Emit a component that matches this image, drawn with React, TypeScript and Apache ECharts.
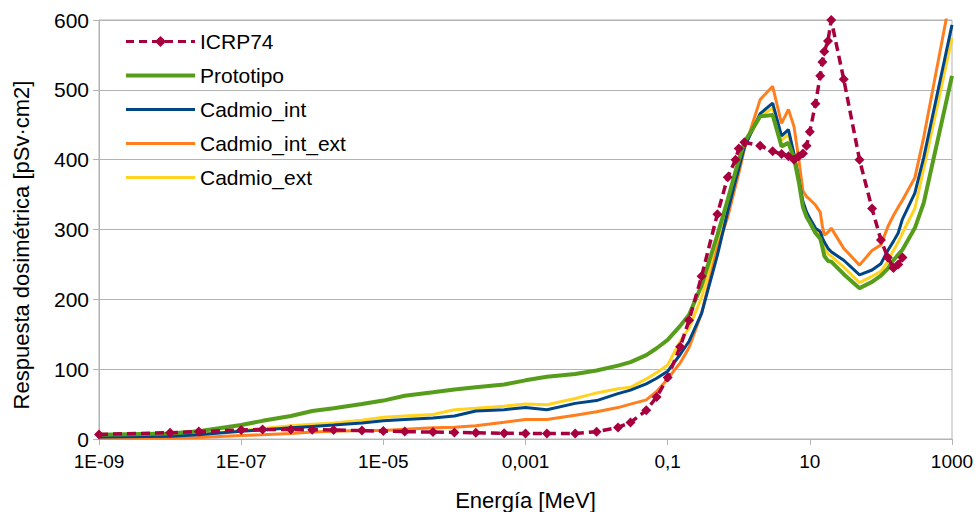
import React, { useEffect, useRef } from "react";
import * as echarts from "echarts";

// Energies (MeV)
const ICRP_E = [1e-9, 1e-8, 2.53e-8, 1e-7, 2e-7, 5e-7, 1e-6, 2e-6, 5e-6, 1e-5, 2e-5, 5e-5, 1e-4, 2e-4, 5e-4, 1e-3, 2e-3, 5e-3, 1e-2, 2e-2, 3e-2, 5e-2, 7e-2, 0.1, 0.15, 0.2, 0.3, 0.5, 0.7, 0.9, 1, 1.2, 2, 3, 4, 5, 6, 7, 8, 9, 10, 12, 14, 15, 16, 18, 20, 30, 50, 75, 100, 125, 150, 175, 201];
const RESP_E = [...ICRP_E, 300, 400, 1000];

// Series values (pSv·cm2)
const ICRP74 = [6.6, 9, 10.6, 12.9, 13.5, 13.6, 13.3, 12.9, 12.0, 11.3, 10.6, 9.9, 9.4, 8.9, 8.3, 7.9, 7.7, 8.0, 10.5, 16.6, 23.7, 41.1, 60, 88, 132, 170, 233, 322, 375, 400, 416, 425, 420, 412, 408, 405, 400, 405, 409, 420, 440, 480, 520, 540, 555, 570, 600, 515, 400, 330, 285, 260, 245, 250, 260];
const PROTOTIPO = [6, 8, 11, 20, 26, 33, 40, 44, 50, 55, 62, 67, 71, 74, 78, 84, 89, 93, 98, 105, 110, 120, 130, 142, 162, 178, 220, 292, 343, 383, 399, 425, 462, 464, 419, 424, 402, 368, 332, 318, 310, 295, 287, 275, 262, 255, 254, 236, 216, 225, 234, 244, 256, 264, 271, 302, 338, 520];
const CADMIO_INT = [3, 4, 6, 11, 13, 16, 18, 20, 23, 26, 28, 30, 33, 40, 42, 45, 42, 51, 55, 65, 70, 79, 87, 97, 121, 140, 180, 263, 326, 370, 387, 418, 466, 481, 434, 443, 408, 372, 340, 325, 316, 302, 297, 288, 282, 273, 268, 256, 235, 242, 251, 270, 283, 295, 315, 352, 403, 593];
const CADMIO_INT_EXT = [1, 1, 2, 5, 6, 8, 10, 11, 12, 12, 14, 16, 17, 19, 24, 28, 28, 34, 39, 45, 50, 56, 68, 86, 109, 131, 180, 273, 318, 362, 380, 415, 486, 505, 452, 472, 447, 400, 355, 347, 343, 335, 325, 305, 292, 296, 302, 273, 249, 270, 278, 304, 320, 332, 342, 374, 432, 645];
const CADMIO_EXT = [3, 5, 7, 12, 15, 19, 21, 23, 27, 31, 33, 35, 42, 44, 47, 50, 49, 58, 66, 72, 74, 86, 95, 106, 140, 159, 203, 285, 338, 378, 394, 420, 462, 474, 428, 436, 405, 372, 338, 322, 314, 298, 292, 283, 273, 265, 262, 246, 224, 233, 240, 254, 270, 282, 295, 330, 387, 574];

// Tick labels (every two decades, starting at 1E-09)
const X_LABELS = ["1E-09", "1E-07", "1E-05", "0,001", "0,1", "10", "1000"];
const Y_MAX = 600;
const Y_STEP = 100;

const FONT = "'Liberation Sans', Arial, sans-serif";

const toPairs = (es: number[], vs: number[]) => es.map((e, i) => [Math.log10(e) + 9, vs[i]]);

export default function App() {
  const ref = useRef<HTMLDivElement>(null);
  useEffect(() => {
    if (!ref.current) return;
    const chart = echarts.init(ref.current, undefined, { renderer: "svg" });
    const gray = "#b3b3b3";
    const lineSeries = (name: string, vs: number[], color: string, width: number, z: number) => ({
      name,
      type: "line",
      data: toPairs(RESP_E, vs),
      symbol: "none",
      showSymbol: false,
      z,
      lineStyle: { color, width },
      itemStyle: { color },
    });
    const legendLine = (name: string, color: string, width: number) => ({
      name,
      itemStyle: { opacity: 0, color: "transparent", borderWidth: 0 },
      lineStyle: { color, width },
    });
    chart.setOption({
      animation: false,
      backgroundColor: "#ffffff",
      textStyle: { fontFamily: FONT },
      grid: {
        left: 99,
        right: 24,
        top: 20,
        bottom: 73,
        containLabel: false,
        outerBoundsMode: "none",
        show: true,
        borderColor: gray,
        borderWidth: 1,
      },
      legend: {
        orient: "vertical",
        left: 124,
        top: 31,
        padding: 0,
        itemWidth: 69,
        itemHeight: 14,
        itemGap: 13,
        textStyle: { fontFamily: FONT, fontSize: 21, color: "#000", lineHeight: 21 },
        data: [
          { name: "ICRP74", lineStyle: { color: "#a8003f", width: 3, type: [8, 5] } },
          legendLine("Prototipo", "#579d1c", 4),
          legendLine("Cadmio_int", "#004586", 3),
          legendLine("Cadmio_int_ext", "#ff7f1e", 3),
          legendLine("Cadmio_ext", "#ffd320", 3),
        ],
      },
      xAxis: {
        type: "value",
        min: 0,
        max: 12,
        interval: 2,
        axisLine: { show: true, lineStyle: { color: gray } },
        axisTick: { show: true, length: 6, lineStyle: { color: gray } },
        splitLine: { show: false },
        axisLabel: {
          fontFamily: FONT,
          fontSize: 19,
          color: "#000",
          margin: 13,
          formatter: (v: number) => X_LABELS[Math.round(v / 2)] ?? "",
        },
        name: "Energía [MeV]",
        nameLocation: "middle",
        nameGap: 50,
        nameTextStyle: { fontFamily: FONT, fontSize: 22, color: "#000" },
      },
      yAxis: {
        type: "value",
        min: 0,
        max: Y_MAX,
        interval: Y_STEP,
        axisLine: { show: true, lineStyle: { color: gray } },
        axisTick: { show: true, length: 6, lineStyle: { color: gray } },
        splitLine: { show: true, lineStyle: { color: gray, width: 1 } },
        axisLabel: { fontFamily: FONT, fontSize: 21, color: "#000", margin: 10 },
      },
      graphic: [
        {
          type: "text",
          x: 21,
          y: 245,
          rotation: Math.PI / 2,
          style: {
            text: "Respuesta dosimétrica [pSv·cm2]",
            fontFamily: FONT,
            fontSize: 22,
            fill: "#000",
            align: "center",
            verticalAlign: "middle",
          },
        },
      ],
      series: [
        {
          name: "ICRP74",
          type: "line",
          data: toPairs(ICRP_E, ICRP74),
          symbol: "diamond",
          symbolSize: 10,
          showSymbol: true,
          z: 10,
          lineStyle: { color: "#a8003f", width: 3.5, type: [9, 5] },
          itemStyle: { color: "#a8003f" },
        },
        lineSeries("Prototipo", PROTOTIPO, "#579d1c", 4, 5),
        lineSeries("Cadmio_int", CADMIO_INT, "#004586", 3, 4),
        lineSeries("Cadmio_int_ext", CADMIO_INT_EXT, "#ff7f1e", 3, 3),
        lineSeries("Cadmio_ext", CADMIO_EXT, "#ffd320", 3, 2),
      ],
    });
    return () => chart.dispose();
  }, []);
  return <div ref={ref} style={{ position: "fixed", left: 0, top: 0, width: 976, height: 512 }} />;
}
